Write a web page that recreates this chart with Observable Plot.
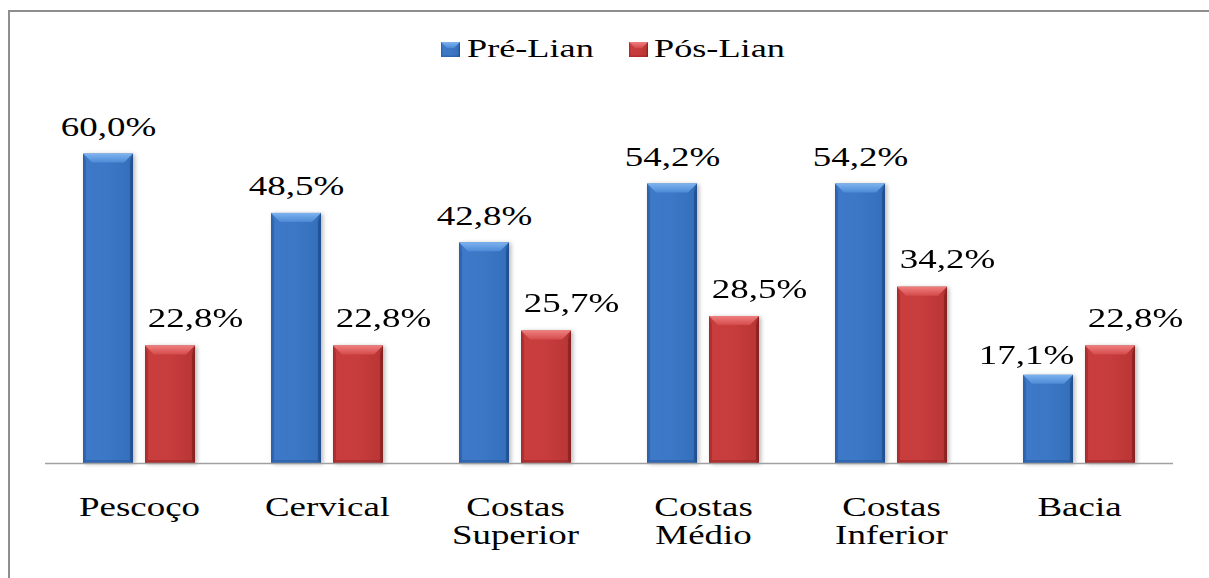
<!DOCTYPE html>
<html>
<head>
<meta charset="utf-8">
<script src="https://cdn.jsdelivr.net/npm/d3@7"></script>
<script src="https://cdn.jsdelivr.net/npm/@observablehq/plot@0.6"></script>
<style>
  html, body { margin: 0; padding: 0; background: #fff; }
  body { width: 1209px; height: 578px; overflow: hidden; position: relative; }
  #frame { position: absolute; left: 8px; top: 10px; width: 1400px; height: 800px;
           border: 2px solid #8e8e8e; box-sizing: border-box; pointer-events: none; }
  #legend { position: absolute; left: 0; top: 0; }
  #chart { position: absolute; left: 0; top: 100px; }
</style>
</head>
<body>
<div id="legend"></div>
<div id="chart"></div>
<div id="frame"></div>
<script>
// Body regions surveyed and share of complaints before / after the Lian routine
const categories = ["Pescoço", "Cervical", "Costas Superior", "Costas Médio", "Costas Inferior", "Bacia"];
const categoryLabels = ["Pescoço", "Cervical", "Costas\nSuperior", "Costas\nMédio", "Costas\nInferior", "Bacia"];
const series = ["Pré-Lian", "Pós-Lian"];
const preLian = [60.0, 48.5, 42.8, 54.2, 54.2, 17.1];
const posLian = [22.8, 22.8, 25.7, 28.5, 34.2, 22.8];
const seriesColors = ["#3b76c4", "#c63b3b"];

const rows = categories.flatMap((c, i) => [
  {category: c, series: series[0], value: preLian[i]},
  {category: c, series: series[1], value: posLian[i]}
]);
const labelOf = new Map(categories.map((c, i) => [c, categoryLabels[i]]));
const pct = v => v.toFixed(1).replace(".", ",") + "%";

const serif = "'Liberation Serif', 'Times New Roman', serif";
const textX = 1.32; // wide setting of the lettering

// shading used for the bevelled bars
const shades = {
  [seriesColors[0]]: {id: "b", edge: "#163f7a", light: "#7db3ef", mid: "#4d8ad6",
                      body: ["#3269b4", "#3d79c8", "#3c77c5", "#3470bc", "#2a5b9e"]},
  [seriesColors[1]]: {id: "r", edge: "#6e1616", light: "#f07e7e", mid: "#d44c4c",
                      body: ["#b53232", "#c93d3d", "#c73c3c", "#bb3636", "#9c2a2a"]}
};

function addDefs(svg) {
  const defs = svg.insert("defs", ":first-child");
  for (const s of Object.values(shades)) {
    const g = defs.append("linearGradient").attr("id", "body-" + s.id)
      .attr("x1", 0).attr("x2", 1).attr("y1", 0).attr("y2", 0);
    [0, 0.08, 0.5, 0.92, 1].forEach((o, k) => g.append("stop").attr("offset", o).attr("stop-color", s.body[k]));
    const t = defs.append("linearGradient").attr("id", "top-" + s.id)
      .attr("x1", 0).attr("x2", 0).attr("y1", 0).attr("y2", 1);
    t.append("stop").attr("offset", 0).attr("stop-color", s.light);
    t.append("stop").attr("offset", 1).attr("stop-color", s.mid);
  }
}

function bevel(parent, x, y, w, h, s, b, e) {
  const P = pts => pts.map(p => p.join(",")).join(" ");
  const g = d3.select(parent);
  g.append("polygon").attr("points", P([[x, y], [x + w, y], [x + w - b, y + b], [x + b, y + b]]))
    .attr("fill", `url(#top-${s.id})`);
  g.append("polygon").attr("points", P([[x, y], [x + e, y + b], [x + e, y + h - e], [x, y + h]]))
    .attr("fill", s.edge).attr("fill-opacity", 0.22);
  g.append("polygon").attr("points", P([[x + w, y], [x + w - e, y + b], [x + w - e, y + h - e], [x + w, y + h]]))
    .attr("fill", s.edge).attr("fill-opacity", 0.45);
  g.append("polygon").attr("points", P([[x, y + h], [x + e, y + h - e], [x + w - e, y + h - e], [x + w, y + h]]))
    .attr("fill", s.edge).attr("fill-opacity", 0.3);
}

// legend
const legend = d3.create("svg").attr("width", 1209).attr("height", 100)
  .style("font-family", serif).style("display", "block");
addDefs(legend);
const legendItems = [
  {name: series[0], color: seriesColors[0], sx: 441, tx: 467},
  {name: series[1], color: seriesColors[1], sx: 629, tx: 654}
];
for (const it of legendItems) {
  const s = shades[it.color];
  const g = legend.append("g");
  g.append("rect").attr("x", it.sx).attr("y", 42).attr("width", 19).attr("height", 15)
    .attr("fill", `url(#body-${s.id})`);
  bevel(g.node(), it.sx, 42, 19, 15, s, 6, 1.5);
  legend.append("text").attr("transform", `translate(${it.tx},57) scale(1.45,1)`)
    .attr("font-size", 25).attr("fill", "#000").text(it.name);
}
document.getElementById("legend").append(legend.node());

// chart
const textOpts = {fx: "category", x: "series", y: "value", text: d => pct(d.value),
                  lineAnchor: "bottom", fontSize: 28};
const plot = Plot.plot({
  width: 1209,
  height: 478,
  marginTop: 2,
  marginBottom: 115,
  marginLeft: 43,
  marginRight: 34,
  style: {fontFamily: serif, fontSize: "28px", color: "#000", background: "transparent"},
  fx: {domain: categories, padding: 0, axis: null},
  x: {domain: series, paddingInner: 0.19, paddingOuter: 0.593, axis: null},
  y: {domain: [0, 70], axis: null},
  color: {domain: series, range: seriesColors},
  marks: [
    Plot.barY(rows, {fx: "category", x: "series", y: "value", fill: "series"}),
    Plot.ruleY([0], {stroke: "#a0a0a0", strokeWidth: 1.5}),
    Plot.text(rows.filter(d => d.series === series[0] && d.category !== "Bacia"), {...textOpts, dy: -18}),
    Plot.text(rows.filter(d => d.series === series[0] && d.category === "Bacia"), {...textOpts, dx: -22, dy: -11}),
    Plot.text(rows.filter(d => d.series === series[1]), {...textOpts, dx: 25, dy: -19}),
    Plot.text(categories, {fx: d => d, text: d => labelOf.get(d), frameAnchor: "bottom",
                           lineAnchor: "top", dy: 33, lineHeight: 1.0, fontSize: 28})
  ]
});

const svg = d3.select(plot);
addDefs(svg);

// widen lettering around each label's anchor
svg.selectAll("g[aria-label='text'] text").each(function () {
  let t = this.getAttribute("transform");
  if (!t) {
    t = `translate(${this.getAttribute("x") || 0},${this.getAttribute("y") || 0})`;
    this.removeAttribute("x");
    this.removeAttribute("y");
  }
  this.setAttribute("transform", t + ` scale(${textX},1)`);
});

// bevelled bar faces
const bars = svg.selectAll("g[aria-label='bar'] rect").nodes();
for (const r of bars) {
  const s = shades[r.getAttribute("fill")];
  if (!s) continue;
  const x = +r.getAttribute("x"), y = +r.getAttribute("y");
  const w = +r.getAttribute("width"), h = +r.getAttribute("height");
  r.setAttribute("fill", `url(#body-${s.id})`);
  bevel(r.parentNode, x, y, w, h, s, Math.min(9, h / 2), 3);
}
svg.select("g[aria-label='bar']").style("filter", "drop-shadow(2px 1px 2px rgba(0,0,0,0.28))");

document.getElementById("chart").append(plot);
</script>
</body>
</html>
